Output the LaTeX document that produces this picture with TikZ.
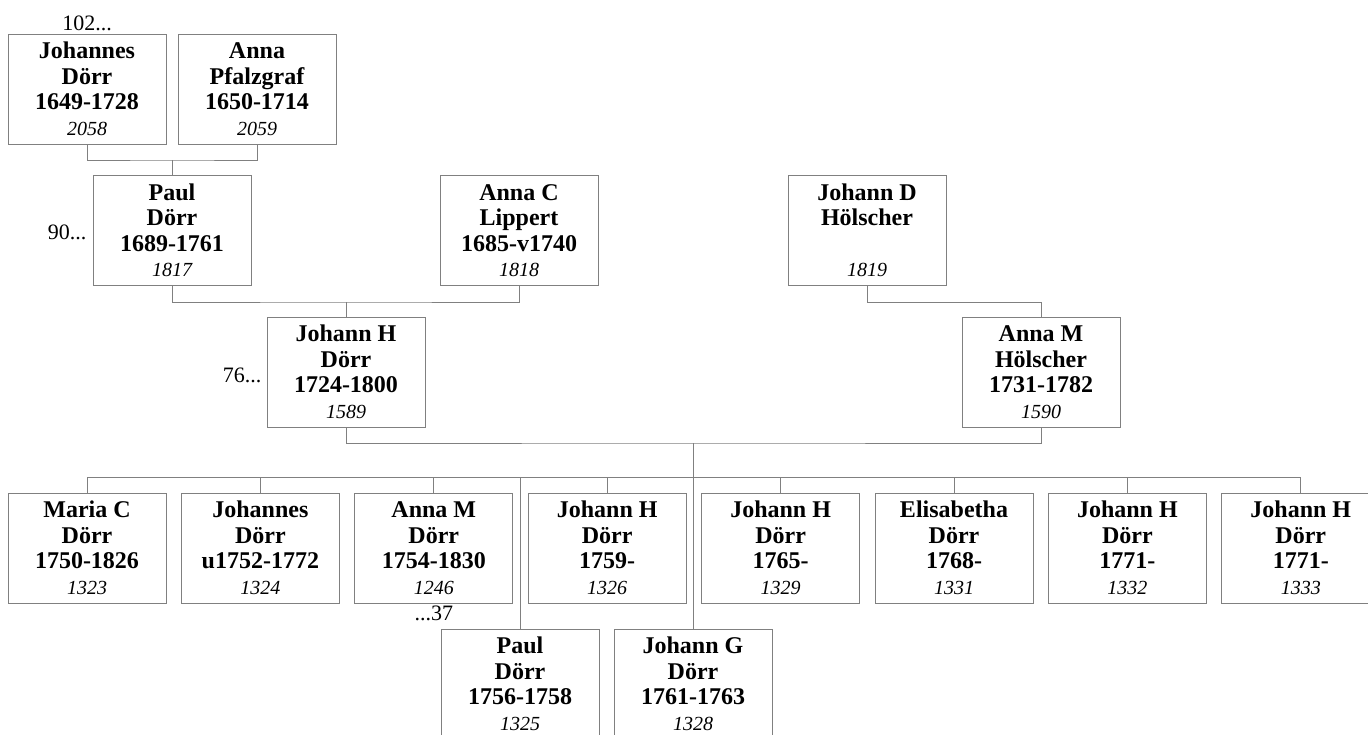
\documentclass[tikz,border=0pt]{standalone}
\usepackage{fontspec}
\setmainfont{Liberation Serif}
\definecolor{framec}{RGB}{128,128,128}
\tikzset{
  pers/.style={rectangle,draw=framec,line width=1pt,minimum width=158pt,minimum height=110pt,inner sep=0pt,align=center,font=\fontsize{24}{25.5}\selectfont\bfseries},
  lnk/.style={framec,line width=1pt},
  gen/.style={font=\fontsize{22}{24}\selectfont,inner sep=2pt},
}
\newcommand{\idno}[1]{{\fontsize{20}{25.5}\selectfont\mdseries\itshape #1}}
\begin{document}
\begin{tikzpicture}[x=1pt,y=-1pt]
  \useasboundingbox (0,0) rectangle (1368,734);
  % grandparents
  \node[pers] (jo) at (87,89) {Johannes\\Dörr\\1649-1728\\\idno{2058}};
  \node[pers] (ap) at (257,89) {Anna\\Pfalzgraf\\1650-1714\\\idno{2059}};
  \node[pers] (pa) at (172,230.5) {Paul\\Dörr\\1689-1761\\\idno{1817}};
  \node[pers] (ac) at (519,230.5) {Anna C\\Lippert\\1685-v1740\\\idno{1818}};
  \node[pers] (jd) at (867,230.5) {Johann D\\Hölscher\\~\\\idno{1819}};
  % parents
  \node[pers] (jh) at (346,372) {Johann H\\Dörr\\1724-1800\\\idno{1589}};
  \node[pers] (am) at (1041,372) {Anna M\\Hölscher\\1731-1782\\\idno{1590}};
  % generation numbers
  \node[gen,anchor=south] (g102) at (jo.north) {102...};
  \node[gen,anchor=east] (g90) at ([xshift=-4pt,yshift=-2pt]pa.west) {90...};
  \node[gen,anchor=east] (g76) at ([xshift=-3pt,yshift=-3pt]jh.west) {76...};
  % children
  \foreach \i/\fn/\dt/\id in {1/Maria C/1750-1826/1323, 2/Johannes/u1752-1772/1324,
      3/Anna M/1754-1830/1246, 4/Johann H/1759-/1326, 5/Johann H/1765-/1329,
      6/Elisabetha/1768-/1331, 7/Johann H/1771-/1332, 8/Johann H/1771-/1333}
    \node[pers] (c\i) at ({87+173.4*(\i-1)},548) {\fn\\Dörr\\\dt\\\idno{\id}};
  \node[pers] (pd) at (520,684) {Paul\\Dörr\\1756-1758\\\idno{1325}};
  \node[pers] (jg) at (693,684) {Johann G\\Dörr\\1761-1763\\\idno{1328}};
  \node[gen,anchor=north] (g37) at (c3.south) {...37};
  % connectors
  \coordinate (b1) at (172,160);
  \coordinate (b2) at (346,302);
  \coordinate (b3) at (693,443);
  \coordinate (bl) at (c1.north |- 0,477);
  \coordinate (br) at (c8.north |- 0,477);
  \draw[lnk] (jo.south) |- (b1) -| (ap.south);
  \draw[lnk] (b1) -- (pa.north);
  \draw[lnk] (pa.south) |- (b2) -| (ac.south);
  \draw[lnk] (b2) -- (jh.north);
  \draw[lnk] (jd.south) -- ++(0,16) -| (am.north);
  \draw[lnk] (jh.south) |- (b3) -| (am.south);
  \draw[lnk] (b3) -- (jg.north);
  \draw[lnk] (bl) -- (br);
  \foreach \i in {1,...,8}
    \draw[lnk] (c\i.north) -- (c\i.north |- bl);
  \draw[lnk] (pd.north) -- (pd.north |- bl);
\end{tikzpicture}
\end{document}
